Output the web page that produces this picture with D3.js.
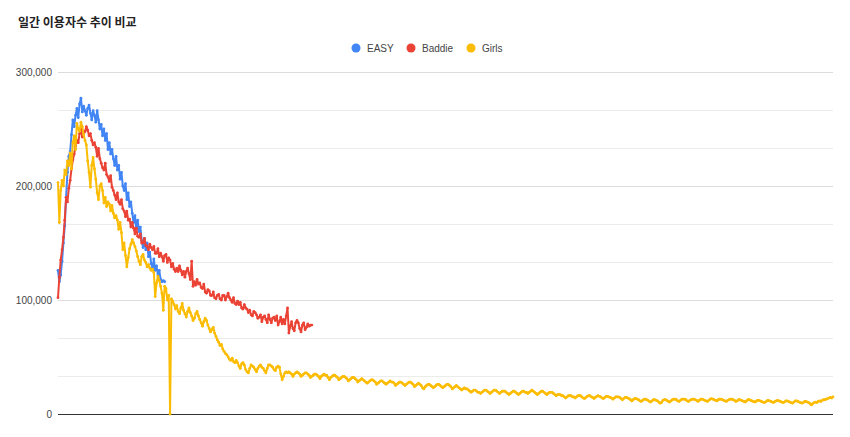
<!DOCTYPE html>
<html>
<head>
<meta charset="utf-8">
<script src="https://cdn.jsdelivr.net/npm/d3@7"></script>
<style>
  body { margin: 0; background: #fff; }
  svg { display: block; }
  text { font-family: Arial, "Liberation Sans", sans-serif; }
</style>
</head>
<body>
<svg id="chart" width="850" height="437"></svg>
<script>
// ---- data (daily users, values in thousands) ----
const seriesNames = ["EASY", "Baddie", "Girls"];
const seriesColors = ["#4285F4", "#EA4335", "#FBBC04"];
const yTickValues = [0, 100000, 200000, 300000];
const yTickLabels = ["0", "100,000", "200,000", "300,000"];

const easyK = [
  126,116,122,134,150,165,190, 212,226,230,245,258,252,262,
  268,260,272,277,265,270,266, 262,268,271,264,258,266,262,
  256,266,258,250,254,244,250, 240,246,232,238,228,232,224,
  218,226,214,218,206,212,200, 196,202,188,194,182,186,176,
  168,174,162,170,160,164,152, 146,154,144,150,138,142,132,
  128,136,126,130,122,126,118, 116,117,116
];

const baddieK = [
  102,120,135,144,155,170,190, 186,198,205,215,223,228,235,
  240,238,246,250,243,245,248, 252,249,244,246,240,236,238,
  234,226,233,224,220,216,214, 220,210,208,204,209,199,196,
  192,188,194,186,184,188,180, 178,173,178,170,171,164,168,
  163,158,163,156,155,158,150, 150,154,148,147,144,149,146,
  144,147,141,141,145,138,141, 138,134,139,140,133,137,135,
  129,132,127,125,128,125,130, 126,122,125,120,125,128,123,
  118,134,112,116,113,118,114, 115,111,110,114,107,106,109,
  108,104,104,107,102,101,104, 105,101,100,104,104,100,103,
  106,102,100,98,102,97,96, 99,96,98,93,92,96,93,
  92,89,91,87,86,90,89, 87,84,85,87,81,85,86,
  83,80,87,83,80,84,85, 82,86,78,81,85,79,83,
  79,86,93,71,77,81,75, 73,80,82,80,75,72,78,
  80,74,76,79,77,78,78
];

const girlsK = [
  203,168,196,205,200,214,210, 222,218,229,215,238,244,232,
  255,250,248,256,252,245,240, 236,222,212,199,218,225,215,
  206,194,188,200,202,196,185, 190,182,186,184,178,183,176,
  172,174,170,162,168,159,144, 150,139,129,137,145,149,153,
  150,147,143,138,134,131,138, 140,135,133,129,131,128,126,
  127,124,103,115,121,117,112, 106,91,112,110,100,104,0,
  101,99,96,92,95,90,88, 93,97,91,88,85,90,93,
  89,86,82,84,88,90,86, 83,80,77,81,84,82,78,
  75,72,74,76,71,68,65, 63,60,61,57,55,53,52,
  50,48,47,49,46,45,47, 45,42,40,44,45,43,39,
  37,36,40,43,42,41,39, 37,40,42,43,41,40,38,
  36,40,43,43,42,41,39, 38,41,42,41,35,30,33,
  36,37,36,37,36,35,33, 35,36,37,36,35,33,34,
  35,36,36,35,34,32,33, 34,35,35,34,33,31,33,
  34,35,34,34,32,30,32, 33,34,34,33,32,30,31,
  32,33,33,32,31,29,30, 31,32,32,31,30,28,29,
  30,31,30,29,28,27,28, 29,30,30,29,28,26,27,
  28,29,29,28,27,26,27, 28,29,28,28,27,25,26,
  27,28,28,27,26,25,26, 27,28,28,27,26,24,25,
  26,27,26,25,23,22,24, 25,26,26,25,24,23,24,
  25,26,26,25,24,23,24, 25,26,26,25,24,22,23,
  24,25,24,23,22,21,22, 23,22,22,21,20,19,20,
  21,21,20,19,19,18,19, 20,21,21,20,19,18,19,
  20,21,21,20,19,18,19, 20,20,20,19,18,17,18,
  19,20,20,19,18,17,18, 19,20,20,19,19,18,19,
  20,21,20,19,18,17,18, 19,20,20,19,18,17,18,
  19,19,19,18,17,16,17, 17,17,16,16,15,14,15,
  16,16,16,15,15,14,15, 16,16,16,15,14,13.5,14.5,
  15.5,16,16,15,14.5,13.5,14.5, 15.5,16,15.5,15,14,13.5,14.5,
  15.5,15.5,15,14.5,14,13,14, 15,15,15,14.5,13.5,12.5,13.5,
  14.5,14.5,14,13.5,12.5,11.5,12.5, 13.5,13.5,13,12.5,11.5,11,12,
  13,13,12.5,12,11,10.5,11.5, 12.5,12.5,12,11.5,10.5,9.5,10,
  12,12.5,12.5,12,11,10.5,11.5, 12.5,13,13,12.5,11.5,11,12,
  13,13,13,12.5,11.5,11,12, 12.5,13,13,12.5,12,11,12,
  13,13,12.5,12,11.5,11,12, 13,13.5,13,12.5,12,11.5,12.5,
  13,13,12.5,12,11.5,11,12, 12.5,13,13,12.5,12,11,11.5,
  12.5,12.5,12,11.5,11,10.5,11.5, 12.5,12.5,12,11.5,11,10.5,11,
  12,12,11.5,11,10.5,10,10.5, 11.5,12,11.5,11,10.5,10,11,
  11.5,12,11.5,11,10.5,10,10.5, 11.5,11.5,11,10.5,10,9.5,10.5,
  11.5,11.5,11,10.5,10,9.5,10, 11,11,10.5,10,9,8,9,
  10,10.5,10,11,11.5,11,12, 12.5,12.5,13,13.5,14,14.5,14,
  15
];

const seriesData = [easyK, baddieK, girlsK];
const UNIT = 1000;

// ---- layout ----
const svg = d3.select("#chart");
const plot = { left: 58, right: 833, top: 72, bottom: 414 };

const nDays = d3.max(seriesData, s => s.length);
const x = d3.scaleLinear().domain([0, nDays - 1]).range([plot.left, plot.right]);
const y = d3.scaleLinear().domain([0, 300000]).range([plot.bottom, plot.top]);

// title
svg.append("text")
  .attr("x", 18).attr("y", 27)
  .attr("font-size", 12).attr("font-weight", "bold")
  .attr("fill", "#222")
  .style("font-family", "'Noto Sans CJK KR', sans-serif")
  .text("일간 이용자수 추이 비교");

// gridlines (minor every 33,333 and major every 100,000)
const minorTicks = d3.range(0, 10).map(i => i * 100000 / 3).filter(v => v > 0);
svg.append("g")
  .selectAll("line")
  .data(minorTicks)
  .join("line")
  .attr("x1", plot.left).attr("x2", plot.right)
  .attr("y1", d => Math.round(y(d)) + 0.5).attr("y2", d => Math.round(y(d)) + 0.5)
  .attr("stroke", d => (Math.abs(d % 100000) < 1 || Math.abs(d % 100000 - 100000) < 1) ? "#dcdcdc" : "#ececec")
  .attr("stroke-width", 1);

// y axis labels
const yAxis = d3.axisLeft(y)
  .tickValues(yTickValues)
  .tickFormat((d, i) => yTickLabels[i])
  .tickSize(0)
  .tickPadding(6);
const yg = svg.append("g").attr("transform", `translate(${plot.left},0)`).call(yAxis);
yg.select(".domain").remove();
yg.selectAll("text")
  .attr("font-size", 10).attr("fill", "#444")
  .style("font-family", "Arial, 'Liberation Sans', sans-serif");

// baseline
svg.append("line")
  .attr("x1", plot.left).attr("x2", plot.right)
  .attr("y1", y(0) + 0.5).attr("y2", y(0) + 0.5)
  .attr("stroke", "#333").attr("stroke-width", 1);

// lines
const line = d3.line()
  .x((d, i) => x(i))
  .y(d => y(d * UNIT));

seriesData.forEach((s, k) => {
  const g = svg.append("g");
  g.append("path")
    .datum(s)
    .attr("fill", "none")
    .attr("stroke", seriesColors[k])
    .attr("stroke-width", 2)
    .attr("stroke-linejoin", "round")
    .attr("d", line);
  g.selectAll("circle")
    .data(s)
    .join("circle")
    .attr("cx", (d, i) => x(i))
    .attr("cy", d => y(d * UNIT))
    .attr("r", 1.4)
    .attr("fill", seriesColors[k]);
});

// legend
const legendX = [356, 411, 471];
const lg = svg.append("g");
seriesNames.forEach((name, k) => {
  lg.append("circle")
    .attr("cx", legendX[k]).attr("cy", 48)
    .attr("r", 4.5).attr("fill", seriesColors[k]);
  lg.append("text")
    .attr("x", legendX[k] + 11).attr("y", 48)
    .attr("dy", "0.35em")
    .attr("font-size", 10).attr("fill", "#444")
    .text(name);
});
</script>
</body>
</html>
